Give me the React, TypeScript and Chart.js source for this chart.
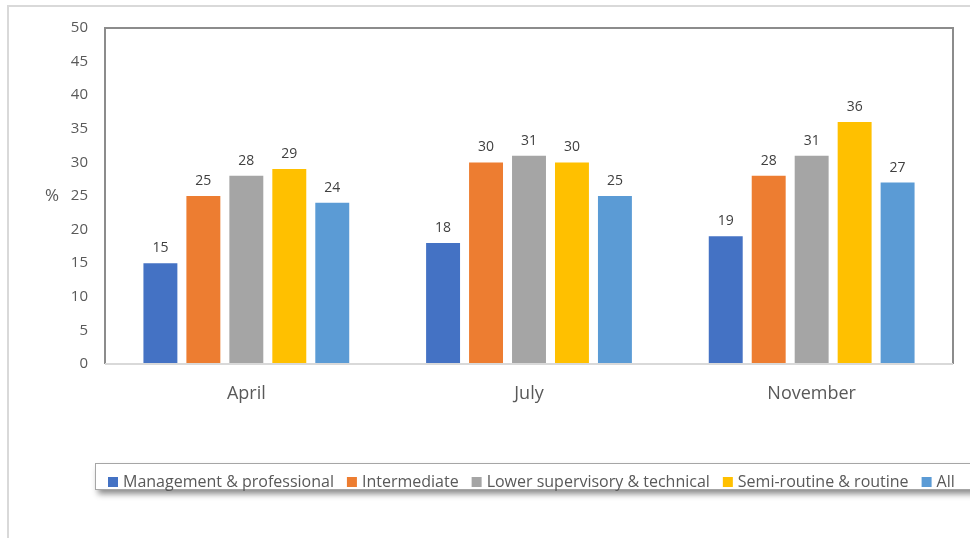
import React, { useEffect, useRef } from "react";
import { Chart, registerables } from "chart.js";

Chart.register(...registerables);

const categories = ["April", "July", "November"];
const seriesNames = [
  "Management & professional",
  "Intermediate",
  "Lower supervisory & technical",
  "Semi-routine & routine",
  "All",
];
const management = [15, 18, 19];
const intermediate = [25, 30, 28];
const lowerSupervisory = [28, 31, 31];
const semiRoutine = [29, 30, 36];
const allWorkers = [24, 25, 27];
const colors = ["#4472C4", "#ED7D31", "#A5A5A5", "#FFC000", "#5B9BD5"];
const yTicks = [0, 5, 10, 15, 20, 25, 30, 35, 40, 45, 50];

const FONT = "'Open Sans', 'Noto Sans', sans-serif";

const decorPlugin = {
  id: "decor",
  beforeDraw(chart: any) {
    const ctx = chart.ctx;
    ctx.save();
    ctx.fillStyle = "#ffffff";
    ctx.fillRect(0, 0, chart.width, chart.height);
    ctx.strokeStyle = "#d9d9d9";
    ctx.lineWidth = 2;
    ctx.beginPath();
    ctx.moveTo(8, chart.height + 5);
    ctx.lineTo(8, 6);
    ctx.lineTo(chart.width + 5, 6);
    ctx.stroke();
    ctx.restore();
  },
  afterDatasetsDraw(chart: any) {
    const ctx = chart.ctx;
    const a = chart.chartArea;
    ctx.save();
    // plot border
    ctx.strokeStyle = "#8c8c8c";
    ctx.lineWidth = 2;
    ctx.beginPath();
    ctx.moveTo(a.left, a.bottom);
    ctx.lineTo(a.left, a.top);
    ctx.lineTo(a.right, a.top);
    ctx.lineTo(a.right, a.bottom);
    ctx.stroke();
    ctx.strokeStyle = "#d9d9d9";
    ctx.beginPath();
    ctx.moveTo(a.left, a.bottom);
    ctx.lineTo(a.right, a.bottom);
    ctx.stroke();

    // data labels
    ctx.fillStyle = "#404040";
    ctx.font = `14px ${FONT}`;
    ctx.textAlign = "center";
    ctx.textBaseline = "alphabetic";
    chart.data.datasets.forEach((ds: any, i: number) => {
      const meta = chart.getDatasetMeta(i);
      meta.data.forEach((bar: any, j: number) => {
        ctx.fillText(String(ds.data[j]), bar.x, bar.y - 11);
      });
    });

    // % label
    ctx.fillStyle = "#595959";
    ctx.font = `17px ${FONT}`;
    ctx.textBaseline = "middle";
    ctx.fillText("%", 52, (a.top + a.bottom) / 2 + 0);

    // legend box
    const bx = 95.5, by = 463.5, bw = 1000, bh = 26;
    ctx.save();
    ctx.shadowColor = "rgba(0,0,0,0.45)";
    ctx.shadowBlur = 6;
    ctx.shadowOffsetX = 2;
    ctx.shadowOffsetY = 4;
    ctx.fillStyle = "#ffffff";
    ctx.fillRect(bx, by, bw, bh);
    ctx.restore();
    ctx.strokeStyle = "#a6a6a6";
    ctx.lineWidth = 1;
    ctx.strokeRect(bx, by, bw, bh);

    ctx.font = `16px ${FONT}`;
    ctx.textAlign = "left";
    ctx.textBaseline = "middle";
    let x = 108;
    const cy = 482;
    chart.data.datasets.forEach((ds: any) => {
      ctx.fillStyle = ds.backgroundColor;
      ctx.fillRect(x, cy - 5, 10, 10);
      ctx.fillStyle = "#595959";
      ctx.fillText(ds.label, x + 15, cy);
      x += 15 + ctx.measureText(ds.label).width + 13;
    });
    ctx.restore();
  },
};

export default function App() {
  const ref = useRef<HTMLCanvasElement | null>(null);
  useEffect(() => {
    document.body.style.margin = "0";
    const values = [management, intermediate, lowerSupervisory, semiRoutine, allWorkers];
    const chart = new Chart(ref.current as HTMLCanvasElement, {
      type: "bar",
      data: {
        labels: categories,
        datasets: values.map((v, i) => ({
          label: seriesNames[i],
          data: v,
          backgroundColor: colors[i],
          borderWidth: 0,
          categoryPercentage: 0.76,
          barPercentage: 0.79,
        })),
      },
      options: {
        animation: false,
        responsive: false,
        maintainAspectRatio: false,
        layout: { padding: { top: 28, right: 17, bottom: 114, left: 0 } },
        plugins: { legend: { display: false }, tooltip: { enabled: false } },
        scales: {
          x: {
            grid: { display: false, drawTicks: false },
            border: { display: false },
            ticks: { color: "#595959", font: { size: 18, family: FONT }, padding: 19 },
            afterFit: (s: any) => { s.height = 60; },
          },
          y: {
            min: 0,
            max: 50,
            afterBuildTicks: (s: any) => { s.ticks = yTicks.map((v) => ({ value: v })); },
            grid: { display: false, drawTicks: false },
            border: { display: false },
            ticks: { color: "#595959", font: { size: 15, family: FONT }, padding: 17 },
            afterFit: (s: any) => { s.width = 105; },
          },
        },
      },
      plugins: [decorPlugin],
    });
    return () => chart.destroy();
  }, []);
  return <canvas ref={ref} width={970} height={538} style={{ display: "block" }} />;
}
